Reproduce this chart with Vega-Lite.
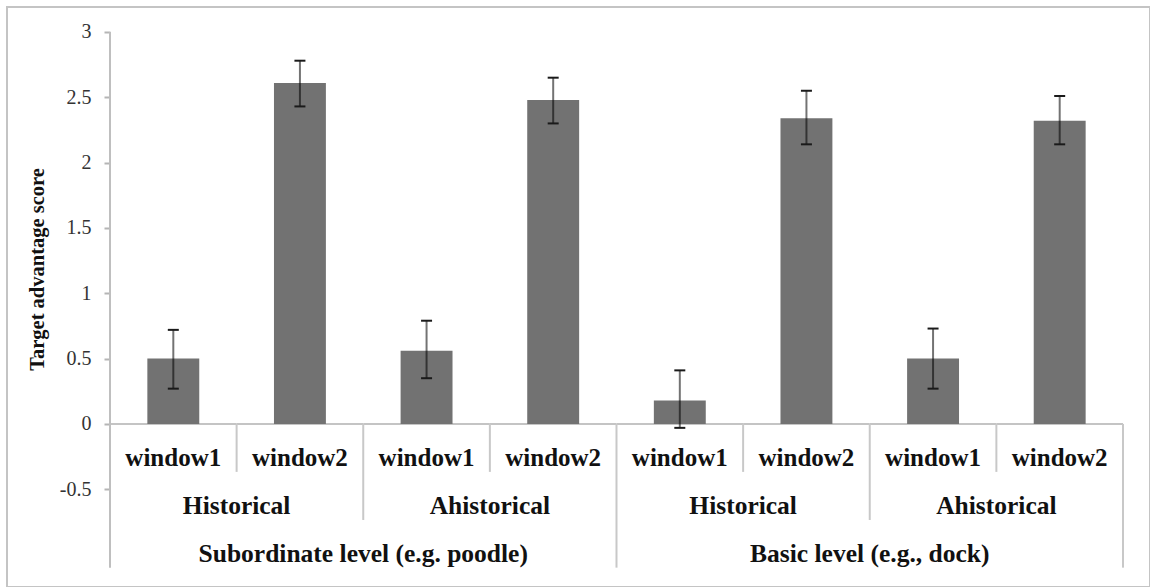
{
  "$schema": "https://vega.github.io/schema/vega-lite/v6.json",
  "width": 1143,
  "height": 580,
  "autosize": {"type": "none"},
  "padding": {"left": 7, "top": 7, "right": 0, "bottom": 0},
  "background": "white",
  "config": {"view": {"stroke": "#c4c4c4", "strokeWidth": 2}, "font": "Liberation Serif"},
  "datasets": {
    "bars": [
      {"cat": "S-H-1", "window": "window1", "mean": 0.50, "lo": 0.27, "hi": 0.72},
      {"cat": "S-H-2", "window": "window2", "mean": 2.61, "lo": 2.43, "hi": 2.78},
      {"cat": "S-A-1", "window": "window1", "mean": 0.56, "lo": 0.35, "hi": 0.79},
      {"cat": "S-A-2", "window": "window2", "mean": 2.48, "lo": 2.30, "hi": 2.65},
      {"cat": "B-H-1", "window": "window1", "mean": 0.18, "lo": -0.03, "hi": 0.41},
      {"cat": "B-H-2", "window": "window2", "mean": 2.34, "lo": 2.14, "hi": 2.55},
      {"cat": "B-A-1", "window": "window1", "mean": 0.50, "lo": 0.27, "hi": 0.73},
      {"cat": "B-A-2", "window": "window2", "mean": 2.32, "lo": 2.14, "hi": 2.51}
    ],
    "dividers": [
      {"cat": "S-H-2", "kind": "window"},
      {"cat": "S-A-2", "kind": "window"},
      {"cat": "B-H-2", "kind": "window"},
      {"cat": "B-A-2", "kind": "window"},
      {"cat": "S-A-1", "kind": "group"},
      {"cat": "B-A-1", "kind": "group"},
      {"cat": "B-H-1", "kind": "level"}
    ],
    "groups": [
      {"cat": "S-H-1", "label": "Historical"},
      {"cat": "S-A-1", "label": "Ahistorical"},
      {"cat": "B-H-1", "label": "Historical"},
      {"cat": "B-A-1", "label": "Ahistorical"}
    ],
    "levels": [
      {"cat": "S-H-2", "label": "Subordinate level (e.g. poodle)"},
      {"cat": "B-H-2", "label": "Basic level (e.g., dock)"}
    ],
    "leftEdge": [{"cat": "S-H-1"}],
    "rightEdge": [{"cat": "B-A-2"}]
  },
  "encoding": {
    "x": {
      "field": "cat",
      "type": "nominal",
      "scale": {
        "domain": ["S-H-1", "S-H-2", "S-A-1", "S-A-2", "B-H-1", "B-H-2", "B-A-1", "B-A-2"],
        "paddingInner": 0,
        "paddingOuter": 0.5133,
        "align": 0.7923
      },
      "axis": null
    }
  },
  "layer": [
    {
      "data": {"name": "bars"},
      "mark": {"type": "rect", "fill": null, "stroke": "#c4c4c4", "strokeWidth": 2},
      "encoding": {
        "y": {
          "datum": 0,
          "type": "quantitative",
          "scale": {"domain": [-1.248, 3.191], "nice": false, "zero": false},
          "axis": {
            "values": [-0.5, 0, 0.5, 1, 1.5, 2, 2.5, 3],
            "labelExpr": "'' + datum.value",
            "offset": -103,
            "domain": false,
            "grid": false,
            "ticks": true,
            "tickSize": 6,
            "tickColor": "#b5b5b5",
            "tickWidth": 2,
            "labelFont": "Liberation Serif",
            "labelFontSize": 20,
            "labelColor": "#333333",
            "labelPadding": 13,
            "title": "Target advantage score",
            "titleFont": "Liberation Serif",
            "titleFontSize": 20.5,
            "titleFontWeight": "bold",
            "titleColor": "#111111",
            "titleX": -73,
            "titleY": 262,
            "titleAngle": -90,
            "titleAlign": "center",
            "titleBaseline": "middle"
          }
        },
        "y2": {"datum": 0}
      }
    },
    {
      "data": {"name": "bars"},
      "mark": {"type": "bar", "color": "#727272", "width": {"band": 0.41}},
      "encoding": {
        "y": {"field": "mean", "type": "quantitative"}
      }
    },
    {
      "data": {"name": "dividers"},
      "transform": [{"filter": "datum.kind === 'window'"}],
      "mark": {"type": "rule", "color": "#c8c8c8", "strokeWidth": 2},
      "encoding": {
        "x": {"field": "cat", "type": "nominal", "bandPosition": 0},
        "y": {"datum": 0, "type": "quantitative"},
        "y2": {"datum": -0.367}
      }
    },
    {
      "data": {"name": "dividers"},
      "transform": [{"filter": "datum.kind === 'group'"}],
      "mark": {"type": "rule", "color": "#c8c8c8", "strokeWidth": 2},
      "encoding": {
        "x": {"field": "cat", "type": "nominal", "bandPosition": 0},
        "y": {"datum": 0, "type": "quantitative"},
        "y2": {"datum": -0.735}
      }
    },
    {
      "data": {"name": "dividers"},
      "transform": [{"filter": "datum.kind === 'level'"}],
      "mark": {"type": "rule", "color": "#c8c8c8", "strokeWidth": 2},
      "encoding": {
        "x": {"field": "cat", "type": "nominal", "bandPosition": 0},
        "y": {"datum": 0, "type": "quantitative"},
        "y2": {"datum": -1.1}
      }
    },
    {
      "data": {"name": "leftEdge"},
      "mark": {"type": "rule", "color": "#bfbfbf", "strokeWidth": 2},
      "encoding": {
        "x": {"field": "cat", "type": "nominal", "bandPosition": 0},
        "y": {"datum": 3, "type": "quantitative"},
        "y2": {"datum": -1.1}
      }
    },
    {
      "data": {"name": "rightEdge"},
      "mark": {"type": "rule", "color": "#c8c8c8", "strokeWidth": 2},
      "encoding": {
        "x": {"field": "cat", "type": "nominal", "bandPosition": 1},
        "y": {"datum": 0, "type": "quantitative"},
        "y2": {"datum": -1.1}
      }
    },
    {
      "data": {"name": "bars"},
      "mark": {"type": "rule", "color": "#000000", "opacity": 0.55, "strokeWidth": 2},
      "encoding": {
        "y": {"field": "lo", "type": "quantitative"},
        "y2": {"field": "hi"}
      }
    },
    {
      "data": {"name": "bars"},
      "mark": {"type": "tick", "color": "#1a1a1a", "size": 11, "thickness": 2, "opacity": 1},
      "encoding": {
        "y": {"field": "lo", "type": "quantitative"}
      }
    },
    {
      "data": {"name": "bars"},
      "mark": {"type": "tick", "color": "#1a1a1a", "size": 11, "thickness": 2, "opacity": 1},
      "encoding": {
        "y": {"field": "hi", "type": "quantitative"}
      }
    },
    {
      "data": {"name": "bars"},
      "mark": {"type": "text", "font": "Liberation Serif", "fontSize": 25, "fontWeight": "bold", "color": "#111111", "baseline": "middle", "align": "center"},
      "encoding": {
        "y": {"datum": -0.26, "type": "quantitative"},
        "text": {"field": "window"}
      }
    },
    {
      "data": {"name": "groups"},
      "mark": {"type": "text", "font": "Liberation Serif", "fontSize": 25.5, "fontWeight": "bold", "color": "#111111", "baseline": "middle", "align": "center"},
      "encoding": {
        "x": {"field": "cat", "type": "nominal", "bandPosition": 1},
        "y": {"datum": -0.628, "type": "quantitative"},
        "text": {"field": "label"}
      }
    },
    {
      "data": {"name": "levels"},
      "mark": {"type": "text", "font": "Liberation Serif", "fontSize": 25.5, "fontWeight": "bold", "color": "#111111", "baseline": "middle", "align": "center"},
      "encoding": {
        "x": {"field": "cat", "type": "nominal", "bandPosition": 1},
        "y": {"datum": -0.995, "type": "quantitative"},
        "text": {"field": "label"}
      }
    }
  ]
}
